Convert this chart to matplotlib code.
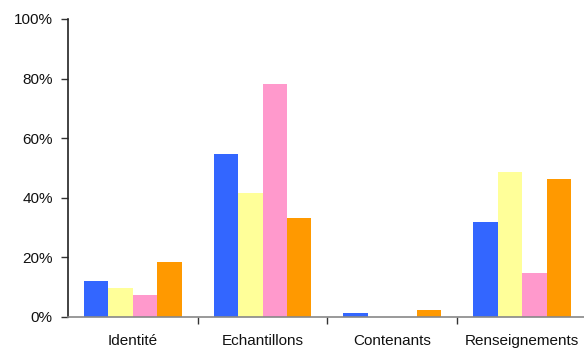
import matplotlib
matplotlib.use("Agg")
import matplotlib.pyplot as plt
import numpy as np

plt.rcParams['font.family'] = ['Liberation Sans', 'DejaVu Sans']

categories = ["Identité", "Echantillons", "Contenants", "Renseignements"]
series_blue = [12.2, 54.7, 1.2, 32.0]
series_yellow = [9.6, 41.5, 0.0, 48.6]
series_pink = [7.4, 78.1, 0.0, 14.7]
series_orange = [18.6, 33.1, 2.3, 46.3]
y_ticks = [0, 20, 40, 60, 80, 100]

colors = ["#3366FF", "#FFFF99", "#FF99CC", "#FF9900"]
series = [series_blue, series_yellow, series_pink, series_orange]

fig = plt.figure(figsize=(5.84, 3.49), dpi=100)
ax = fig.add_axes([0.1164, 0.0917, 1.005 - 0.1164, 0.9456 - 0.0917])

x = np.arange(len(categories))
w = 0.1885
for i, (vals, c) in enumerate(zip(series, colors)):
    ax.bar(x + (i - 1.5) * w, vals, width=w, color=c, edgecolor='none', zorder=2)

ax.set_xlim(-0.5, len(categories) - 0.5)
ax.set_ylim(0, 100)
ax.set_yticks(y_ticks)
ax.set_yticklabels([f"{t}%" for t in y_ticks])

ax.set_xticks(x)
ax.set_xticklabels(categories)
ax.set_xticks(np.arange(0.5, len(categories), 1.0), minor=True)
ax.tick_params(axis='x', which='major', length=0, pad=12, labelsize=11, labelcolor='#111111')
ax.tick_params(axis='x', which='minor', length=5, width=1, color='#333333', direction='out')
ax.tick_params(axis='y', length=5, width=1, color='#333333', direction='out', pad=6,
               labelsize=11, labelcolor='#111111')

for s in ['top', 'right']:
    ax.spines[s].set_visible(False)
ax.spines['left'].set_color('#222222')
ax.spines['left'].set_linewidth(1.2)
ax.spines['bottom'].set_color('#888888')
ax.spines['bottom'].set_linewidth(1.2)

fig.savefig("out.png", dpi=100)
